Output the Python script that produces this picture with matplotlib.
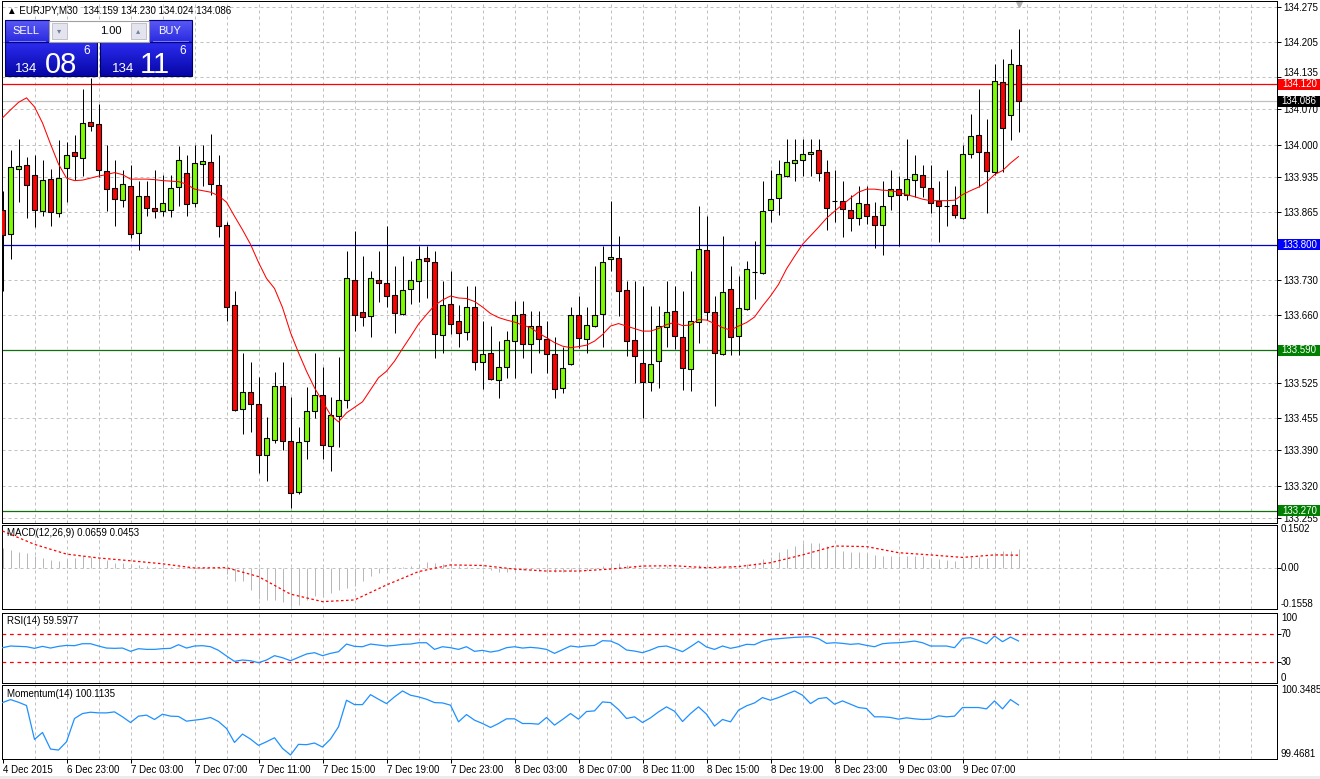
import numpy as np
import matplotlib
matplotlib.use('Agg')
from matplotlib import pyplot as plt
import matplotlib.transforms as tx
from matplotlib.patches import Rectangle
from matplotlib.colors import LinearSegmentedColormap

plt.rcParams['font.family'] = ['Liberation Sans', 'DejaVu Sans']

W, H = 1320, 779

# EURJPY M30 candles
opens = [133.869, 133.821, 133.951, 133.959, 133.939, 133.867, 133.932, 133.863, 133.953, 133.986,
         133.973, 134.044, 134.040, 133.947, 133.913, 133.889, 133.917, 133.823, 133.897, 133.874,
         133.868, 133.869, 133.915, 133.944, 133.883, 133.962, 133.966, 133.919, 133.839, 133.681,
         133.473, 133.506, 133.482, 133.381, 133.411, 133.518, 133.408, 133.307, 133.408, 133.469,
         133.500, 133.399, 133.459, 133.491, 133.729, 133.667, 133.659, 133.729, 133.723, 133.699,
         133.663, 133.711, 133.727, 133.773, 133.765, 133.621, 133.683, 133.649, 133.627, 133.677,
         133.567, 133.585, 133.531, 133.557, 133.609, 133.663, 133.603, 133.639, 133.613, 133.583,
         133.515, 133.563, 133.661, 133.613, 133.639, 133.663, 133.771, 133.773, 133.709, 133.611,
         133.565, 133.527, 133.569, 133.637, 133.669, 133.617, 133.553, 133.647, 133.789, 133.667,
         133.583, 133.711, 133.619, 133.673, 133.746, 133.743, 133.869, 133.893, 133.938, 133.963,
         133.969, 133.981, 133.989, 133.945, 133.888, 133.888, 133.869, 133.853, 133.881, 133.857,
         133.839, 133.898, 133.911, 133.900, 133.929, 133.939, 133.913, 133.887, 133.877, 133.879,
         133.853, 133.981, 134.019, 133.985, 133.945, 134.124, 134.059, 134.159]
highs = [133.908, 133.990, 134.010, 133.975, 133.980, 133.970, 133.951, 134.008, 134.004, 134.018,
         134.110, 134.132, 134.080, 134.000, 133.970, 133.950, 133.959, 133.928, 133.928, 133.950,
         133.939, 133.940, 133.998, 133.980, 134.000, 134.000, 134.020, 133.980, 133.845, 133.708,
         133.585, 133.566, 133.536, 133.456, 133.546, 133.566, 133.496, 133.436, 133.516, 133.585,
         133.556, 133.496, 133.576, 133.788, 133.828, 133.778, 133.748, 133.788, 133.838, 133.758,
         133.778, 133.768, 133.798, 133.798, 133.788, 133.728, 133.748, 133.681, 133.718, 133.718,
         133.648, 133.638, 133.608, 133.628, 133.688, 133.688, 133.668, 133.668, 133.648, 133.617,
         133.597, 133.677, 133.697, 133.677, 133.757, 133.798, 133.888, 133.817, 133.728, 133.728,
         133.718, 133.678, 133.678, 133.728, 133.718, 133.708, 133.748, 133.878, 133.858, 133.698,
         133.817, 133.758, 133.738, 133.767, 133.808, 133.928, 133.950, 133.970, 134.010, 134.010,
         134.010, 134.010, 134.010, 133.969, 133.950, 133.928, 133.899, 133.918, 133.918, 133.885,
         133.928, 133.950, 133.938, 134.010, 133.979, 133.959, 133.959, 133.928, 133.950, 133.918,
         134.000, 134.060, 134.110, 134.050, 134.160, 134.170, 134.190, 134.230]
lows = [133.708, 133.771, 133.885, 133.853, 133.836, 133.857, 133.837, 133.855, 133.885, 133.930,
        133.938, 134.027, 133.935, 133.867, 133.837, 133.875, 133.813, 133.789, 133.857, 133.853,
        133.857, 133.855, 133.877, 133.857, 133.875, 133.917, 133.899, 133.815, 133.649, 133.468,
        133.423, 133.427, 133.345, 133.329, 133.405, 133.391, 133.275, 133.303, 133.373, 133.455,
        133.373, 133.349, 133.397, 133.475, 133.629, 133.639, 133.617, 133.687, 133.677, 133.625,
        133.660, 133.683, 133.687, 133.693, 133.575, 133.585, 133.623, 133.597, 133.611, 133.551,
        133.513, 133.531, 133.495, 133.535, 133.535, 133.575, 133.545, 133.585, 133.545, 133.495,
        133.505, 133.560, 133.595, 133.585, 133.637, 133.597, 133.747, 133.658, 133.579, 133.525,
        133.455, 133.508, 133.515, 133.597, 133.593, 133.511, 133.509, 133.605, 133.651, 133.479,
        133.581, 133.581, 133.581, 133.671, 133.691, 133.741, 133.846, 133.859, 133.936, 133.927,
        133.938, 133.938, 133.927, 133.829, 133.845, 133.815, 133.827, 133.839, 133.841, 133.793,
        133.779, 133.870, 133.798, 133.890, 133.896, 133.896, 133.864, 133.805, 133.837, 133.853,
        133.851, 133.973, 133.916, 133.863, 133.940, 133.946, 134.009, 134.024]
closes = [133.820, 133.956, 133.958, 133.919, 133.869, 133.930, 133.865, 133.934, 133.980, 133.977,
          134.043, 134.037, 133.949, 133.911, 133.891, 133.921, 133.821, 133.898, 133.873, 133.868,
          133.883, 133.913, 133.969, 133.881, 133.964, 133.968, 133.921, 133.837, 133.677, 133.471,
          133.506, 133.483, 133.381, 133.415, 133.518, 133.408, 133.305, 133.406, 133.468, 133.500,
          133.401, 133.461, 133.491, 133.733, 133.661, 133.657, 133.733, 133.723, 133.697, 133.665,
          133.709, 133.729, 133.771, 133.767, 133.623, 133.681, 133.643, 133.625, 133.677, 133.567,
          133.583, 133.533, 133.557, 133.611, 133.661, 133.603, 133.639, 133.613, 133.583, 133.513,
          133.555, 133.661, 133.615, 133.641, 133.661, 133.766, 133.775, 133.707, 133.609, 133.579,
          133.527, 133.563, 133.639, 133.667, 133.619, 133.555, 133.649, 133.791, 133.667, 133.585,
          133.705, 133.617, 133.675, 133.751, 133.746, 133.868, 133.891, 133.941, 133.965, 133.969,
          133.981, 133.985, 133.943, 133.873, 133.888, 133.871, 133.853, 133.883, 133.858, 133.839,
          133.877, 133.911, 133.900, 133.931, 133.941, 133.916, 133.884, 133.877, 133.877, 133.859,
          133.981, 134.017, 133.985, 133.948, 134.126, 134.033, 134.160, 134.086]

# moving average drawn on the price panel
ma = [134.053, 134.069, 134.084, 134.093, 134.075, 134.043, 134.001, 133.961, 133.933, 133.928,
      133.929, 133.933, 133.937, 133.940, 133.944, 133.940, 133.931, 133.931, 133.931, 133.930,
      133.928, 133.927, 133.926, 133.921, 133.911, 133.908, 133.905, 133.898, 133.885, 133.857,
      133.830, 133.801, 133.765, 133.733, 133.713, 133.675, 133.625, 133.585, 133.548, 133.515,
      133.488, 133.461, 133.447, 133.465, 133.476, 133.487, 133.511, 133.535, 133.548, 133.568,
      133.593, 133.617, 133.642, 133.661, 133.679, 133.690, 133.698, 133.694, 133.693, 133.687,
      133.676, 133.663, 133.655, 133.650, 133.646, 133.640, 133.635, 133.624, 133.615, 133.605,
      133.598, 133.595, 133.597, 133.600, 133.608, 133.621, 133.638, 133.643, 133.638, 133.633,
      133.628, 133.628, 133.633, 133.641, 133.645, 133.639, 133.640, 133.651, 133.650, 133.643,
      133.635, 133.630, 133.638, 133.645, 133.656, 133.678, 133.698, 133.721, 133.752, 133.777,
      133.801, 133.818, 133.835, 133.853, 133.867, 133.880, 133.893, 133.905, 133.911, 133.911,
      133.909, 133.908, 133.905, 133.900, 133.896, 133.891, 133.888, 133.888, 133.888, 133.889,
      133.900, 133.908, 133.915, 133.925, 133.940, 133.948, 133.963, 133.976]

macd_hist = [0.070, 0.064, 0.055, 0.052, 0.042, 0.036, 0.028, 0.025, 0.028, 0.034,
             0.042, 0.037, 0.036, 0.028, 0.018, 0.018, 0.012, 0.010, 0.006, 0.004,
             0.004, 0.001, 0.004, 0.002, 0.001, 0.001, 0.000, -0.002, -0.023, -0.048,
             -0.048, -0.080, -0.114, -0.116, -0.116, -0.122, -0.138, -0.134, -0.116, -0.102,
             -0.104, -0.092, -0.080, -0.074, -0.066, -0.048, -0.030, -0.020, -0.008, 0.001,
             0.004, 0.006, 0.012, 0.022, 0.016, 0.012, 0.010, 0.006, 0.004, -0.002,
             -0.006, -0.008, -0.014, -0.014, -0.011, -0.008, -0.008, -0.011, -0.014, -0.016,
             -0.014, -0.012, -0.011, -0.008, -0.005, 0.006, 0.016, 0.018, 0.010, 0.006,
             0.001, 0.004, 0.004, 0.006, 0.004, -0.001, 0.001, 0.008, 0.006, 0.001,
             0.006, 0.005, 0.006, 0.013, 0.018, 0.030, 0.040, 0.055, 0.066, 0.078,
             0.090, 0.090, 0.088, 0.078, 0.066, 0.061, 0.058, 0.055, 0.052, 0.046,
             0.042, 0.042, 0.042, 0.043, 0.043, 0.042, 0.034, 0.030, 0.028, 0.024,
             0.036, 0.040, 0.037, 0.034, 0.054, 0.061, 0.061, 0.066]
signal_idx = [0, 4, 8, 12, 16, 20, 24, 28, 32, 36, 40, 44, 48, 52, 56, 60, 64, 68, 72, 76,
              80, 84, 88, 92, 96, 100, 104, 108, 112, 116, 120, 124, 127]
signal_val = [0.132, 0.084, 0.049, 0.035, 0.025, 0.014, -0.001, 0.000, -0.032, -0.095,
              -0.122, -0.116, -0.062, -0.014, 0.010, 0.008, -0.005, -0.012, -0.012, -0.005,
              0.006, 0.007, 0.000, 0.004, 0.018, 0.046, 0.078, 0.076, 0.054, 0.046,
              0.037, 0.046, 0.045]

rsi = [50.0, 52.4, 51.9, 51.4, 49.1, 51.9, 49.5, 51.9, 53.3, 52.9,
       55.7, 55.7, 52.4, 49.5, 49.1, 49.5, 44.8, 48.6, 47.6, 47.6,
       48.6, 49.1, 54.3, 49.5, 52.4, 52.9, 51.4, 46.2, 38.1, 30.5,
       32.4, 31.4, 28.6, 32.4, 38.6, 35.7, 31.4, 36.2, 41.0, 42.9,
       38.6, 41.9, 44.3, 55.2, 51.9, 51.4, 55.2, 53.8, 52.4, 53.3,
       54.8, 55.2, 57.1, 57.1, 47.6, 51.4, 50.0, 47.6, 51.4, 44.8,
       46.2, 43.8, 45.7, 50.0, 51.4, 49.5, 50.5, 49.5, 47.6, 41.9,
       47.2, 52.4, 51.0, 52.4, 53.3, 60.0, 59.5, 54.8, 46.7, 45.2,
       42.9, 46.7, 51.4, 52.4, 48.6, 44.3, 51.4, 59.1, 51.0, 47.6,
       52.4, 49.1, 51.4, 54.8, 54.3, 59.5, 61.9, 62.9, 63.8, 64.8,
       65.2, 65.7, 62.9, 56.2, 57.1, 56.2, 54.8, 55.7, 53.3, 51.4,
       55.7, 56.7, 57.1, 58.1, 59.5, 57.1, 52.4, 52.4, 52.4, 50.0,
       63.3, 64.3, 60.5, 55.7, 66.7, 58.6, 65.2, 59.6]

momentum = [100.142, 100.178, 100.146, 100.107, 99.702, 99.785, 99.587, 99.575, 99.674, 99.952,
            100.011, 100.027, 100.019, 100.019, 100.031, 99.972, 99.904, 99.980, 99.992, 99.940,
            100.003, 99.980, 99.976, 99.920, 99.932, 99.944, 99.964, 99.916, 99.833, 99.666,
            99.766, 99.706, 99.631, 99.674, 99.722, 99.595, 99.516, 99.643, 99.639, 99.659,
            99.611, 99.706, 99.853, 100.170, 100.118, 100.118, 100.237, 100.182, 100.130, 100.210,
            100.281, 100.230, 100.210, 100.182, 100.142, 100.138, 100.111, 99.912, 99.999, 99.932,
            99.892, 99.845, 99.892, 99.948, 99.948, 99.892, 99.892, 99.884, 99.964, 99.873,
            99.940, 100.011, 99.944, 100.035, 100.043, 100.150, 100.142, 100.059, 99.952, 99.972,
            99.904, 99.960, 100.031, 100.091, 100.039, 99.916, 100.011, 100.091, 100.003, 99.861,
            99.940, 99.912, 100.051, 100.103, 100.138, 100.202, 100.170, 100.202, 100.241, 100.281,
            100.230, 100.130, 100.190, 100.202, 100.122, 100.162, 100.122, 100.083, 100.071, 99.972,
            99.972, 99.964, 99.944, 99.960, 99.948, 99.940, 99.944, 99.984, 99.972, 99.980,
            100.083, 100.083, 100.083, 100.067, 100.162, 100.067, 100.178, 100.114]

price_ticks = [134.275, 134.205, 134.135, 134.070, 134.000, 133.935, 133.865, 133.800,
               133.730, 133.660, 133.590, 133.525, 133.455, 133.390, 133.320, 133.255]
time_ticks = [0, 8, 16, 24, 32, 40, 48, 56, 64, 72, 80, 88, 96, 104, 112, 120]
time_labels = ['4 Dec 2015', '6 Dec 23:00', '7 Dec 03:00', '7 Dec 07:00', '7 Dec 11:00',
               '7 Dec 15:00', '7 Dec 19:00', '7 Dec 23:00', '8 Dec 03:00', '8 Dec 07:00',
               '8 Dec 11:00', '8 Dec 15:00', '8 Dec 19:00', '8 Dec 23:00', '9 Dec 03:00',
               '9 Dec 07:00']
# horizontal levels: (price, line colour, label background)
levels = [(134.120, '#ff0000', '#ff0000'), (134.086, '#c0c0c0', '#000000'),
          (133.800, '#0000c8', '#0000ff'), (133.590, '#107010', '#008000'),
          (133.270, '#107010', '#008000')]

GRID = '#c0c0c0'
LW = 0.72
FS = 7
XLIM = (-0.125, 159.31)
PRICE_LIM = (133.2464, 134.2871)
MAIN_PX = 522.0  # price panel height in pixels


def pax(x0, y0, x1, y1):
    return fig.add_axes([x0 / W, 1 - y1 / H, (x1 - x0) / W, (y1 - y0) / H])


def frame(ax):
    ax.set_xlim(*XLIM)
    for s in ax.spines.values():
        s.set_linewidth(LW)
        s.set_color('black')
    ax.set_xticks([])
    ax.yaxis.tick_right()
    ax.tick_params(axis='y', length=3, width=LW, pad=1.5, labelsize=FS)
    for k in range(4, 160, 4):
        ax.axvline(k, color=GRID, lw=LW, ls=(0, (3, 3)), zorder=0)


def right_label(ax, y, s, va='center'):
    tr = tx.blended_transform_factory(ax.transAxes, ax.transData)
    ax.text(1.003, y, s, transform=tr, fontsize=FS, va=va, ha='left', clip_on=False)


fig = plt.figure(figsize=(W / 100, H / 100), dpi=100)
fig.patch.set_facecolor('white')

# ---- price panel
ax = pax(1.5, 0.5, 1277, 522.5)
frame(ax)
ax.set_ylim(*PRICE_LIM)
level_prices = [p for p, _, _ in levels]
ax.set_yticks(price_ticks)
ax.set_yticklabels(['' if any(abs(v - p) < 1e-6 for p in level_prices) else f'{v:.3f}'
                    for v in price_ticks])
# the 134.135 label sits just above the red 134.120 box, as in the terminal
for lbl, v in zip(ax.get_yticklabels(), price_ticks):
    if abs(v - 134.135) < 1e-6:
        lbl.set_transform(lbl.get_transform() + tx.ScaledTranslation(0, 3.5 / 72, fig.dpi_scale_trans))
for v in price_ticks:
    ax.axhline(v, color=GRID, lw=LW, ls=(0, (3, 3)), zorder=0)

idx = np.arange(len(closes))
o = np.array(opens)
c = np.array(closes)
up = c >= o
ax.vlines(idx, lows, highs, color='black', lw=LW, zorder=3)
ax.bar(idx, np.abs(c - o), bottom=np.minimum(o, c), width=0.62,
       color=np.where(up, '#7cfc00', '#ff0000'), edgecolor='black', linewidth=0.8, zorder=4)
ax.plot(idx, ma, color='#ff0000', lw=0.75, zorder=5)

trans = tx.blended_transform_factory(ax.transAxes, ax.transData)
box_w = 42.5 / 1275.5
box_h = 11.0 / MAIN_PX * (PRICE_LIM[1] - PRICE_LIM[0])
for price, lc, bg in levels:
    ax.axhline(price, color=lc, lw=0.9, zorder=2)
    ax.add_patch(Rectangle((1.0008, price - box_h / 2), box_w, box_h, transform=trans,
                           facecolor=bg, edgecolor='none', clip_on=False, zorder=9))
    ax.text(1.0008 + box_w / 2, price, f'{price:.3f}', transform=trans, fontsize=FS,
            color='white', va='center', ha='center', clip_on=False, zorder=10)

ax.text(0.004, 0.9815, '\u25b2 EURJPY,M30  134.159 134.230 134.024 134.086',
        transform=ax.transAxes, fontsize=FS, va='center', ha='left')
ax.plot([idx[-1]], [0.994], marker='v', ms=4, color='#b0b0b0',
        transform=tx.blended_transform_factory(ax.transData, ax.transAxes), clip_on=False)

# ---- MACD panel
am = pax(1.5, 524.5, 1277, 609.3)
frame(am)
am.set_ylim(-0.1496, 0.1554)
am.set_yticks([0.0])
am.set_yticklabels([''])
am.axhline(0, color=GRID, lw=LW, ls=(0, (3, 3)), zorder=0)
am.vlines(idx, 0, macd_hist, color='#b8b8b8', lw=LW, zorder=2)
am.plot(signal_idx, signal_val, color='#ff0000', lw=0.9, ls=(0, (2, 2)), zorder=3)
right_label(am, 0.1554, '0.1502', va='top')
right_label(am, 0.0, '0.00')
right_label(am, -0.1496, '-0.1558', va='bottom')
am.text(0.004, 0.9, 'MACD(12,26,9) 0.0659 0.0453', transform=am.transAxes,
        fontsize=FS, va='center', ha='left')

# ---- RSI panel
ar = pax(1.5, 612.7, 1277, 682.7)
frame(ar)
ar.set_ylim(0, 100)
ar.set_yticks([70, 30])
ar.set_yticklabels(['', ''])
for lvl in (70, 30):
    ar.axhline(lvl, color='#ff0000', lw=0.9, ls=(0, (3, 3)), zorder=1)
ar.plot(idx, rsi, color='#1e90ff', lw=0.9, zorder=3)
right_label(ar, 100, '100', va='top')
right_label(ar, 70, '70')
right_label(ar, 30, '30')
right_label(ar, 0, '0', va='bottom')
ar.text(0.004, 0.88, 'RSI(14) 59.5977', transform=ar.transAxes,
        fontsize=FS, va='center', ha='left')

# ---- Momentum panel
ao = pax(1.5, 685.3, 1277, 759)
frame(ao)
ao.set_ylim(99.4681, 100.3485)
ao.set_yticks([])
ao.plot(idx, momentum, color='#1e90ff', lw=0.9, zorder=3)
right_label(ao, 100.3485, '100.3485', va='top')
right_label(ao, 99.4681, '99.4681', va='bottom')
ao.text(0.004, 0.88, 'Momentum(14) 100.1135', transform=ao.transAxes,
        fontsize=FS, va='center', ha='left')
ao.set_xticks(time_ticks)
ao.set_xticklabels(time_labels, ha='left', fontsize=FS)
ao.tick_params(axis='x', length=3, width=LW, pad=1.5)

# ---- one-click trading widget (pixel overlay)
ov = fig.add_axes([0, 0, 1, 1], zorder=20)
ov.add_patch(Rectangle((0, 776), W, 3, color='#ececec', lw=0))

top_cm = LinearSegmentedColormap.from_list('top', ['#5a5af5', '#2a2ae0'])
big_cm = LinearSegmentedColormap.from_list('big', ['#2c2cf0', '#0606a6'])
grad = np.linspace(0, 1, 64).reshape(-1, 1)
for x0, x1 in [(5, 97), (100, 192)]:
    ov.imshow(grad, cmap=big_cm, extent=(x0, x1, 76, 42), aspect='auto', zorder=1)
    ov.add_patch(Rectangle((x0, 42), x1 - x0, 34, fill=False, ec='#000060', lw=0.8, zorder=2))
for x0, x1 in [(5, 49), (149, 192)]:
    ov.imshow(grad, cmap=top_cm, extent=(x0, x1, 42, 20), aspect='auto', zorder=1)
    ov.add_patch(Rectangle((x0, 20), x1 - x0, 22, fill=False, ec='#000080', lw=0.8, zorder=2))
    ov.plot([x0 + 4, x1 - 4], [41, 41], color='#8c8cff', lw=0.6, zorder=3)
ov.set_xlim(0, W)
ov.set_ylim(H, 0)
ov.axis('off')

ov.add_patch(Rectangle((49, 20.5), 100, 21, fc='white', ec='#a0a0a0', lw=0.8, zorder=2))
for bx in (52, 131):
    ov.add_patch(Rectangle((bx, 23), 15, 16, fc='#e4e4ee', ec='#b8b8c8', lw=0.6, zorder=3))
ov.text(59.5, 31, '\u25be', fontsize=6, color='#7080a0', ha='center', va='center', zorder=4,
        family=['DejaVu Sans'])
ov.text(138.5, 31, '\u25b4', fontsize=6, color='#7080a0', ha='center', va='center', zorder=4,
        family=['DejaVu Sans'])
ov.text(122, 31, '1.00', fontsize=8, color='black', ha='right', va='center', zorder=4)
ov.text(26, 31, 'SELL', fontsize=8, color='white', ha='center', va='center', zorder=4)
ov.text(170, 31, 'BUY', fontsize=8, color='white', ha='center', va='center', zorder=4)

for x_small, x_big, x_sup, big in [(15, 45, 83, '08'), (112, 140, 179, '11')]:
    ov.text(x_small, 71.5, '134', fontsize=9.5, color='white', ha='left', va='baseline', zorder=4)
    ov.text(x_big, 72.5, big, fontsize=21, color='white', ha='left', va='baseline', zorder=4)
    ov.text(x_sup, 51, '6', fontsize=8.5, color='white', ha='left', va='center', zorder=4)

fig.savefig('out.png', dpi=100)
